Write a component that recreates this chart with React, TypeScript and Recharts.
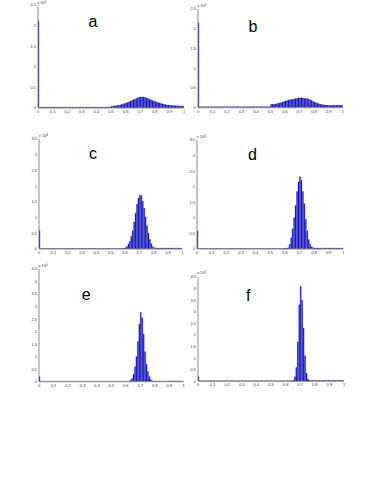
import React from 'react';
import { BarChart, Bar, XAxis, YAxis } from 'recharts';

// histogram bins: 100 equal bins on [0, 1]
const binCenters: number[] = Array.from({ length: 100 }, (_, i) => (i + 0.5) / 100);

const xTicks = [0, 0.1, 0.2, 0.3, 0.4, 0.5, 0.6, 0.7, 0.8, 0.9, 1];
const yTicks25 = [0, 0.5, 1, 1.5, 2, 2.5];
const yTicks35 = [0, 0.5, 1, 1.5, 2, 2.5, 3, 3.5];
const yTicks45 = [0, 0.5, 1, 1.5, 2, 2.5, 3, 3.5, 4, 4.5];

const panelLetters = ['a', 'b', 'c', 'd', 'e', 'f'];
const exponentText = 'x 10';
const exponentPower = '4';

// counts in units of 10^4
const countsA = [
  2.11, 0.02, 0.02, 0.02, 0.02, 0.02, 0.02, 0.02, 0.02, 0.02,
  0.02, 0.02, 0.02, 0.02, 0.02, 0.02, 0.02, 0.02, 0.02, 0.02,
  0.02, 0.02, 0.02, 0.02, 0.02, 0.02, 0.02, 0.02, 0.02, 0.02,
  0.02, 0.02, 0.02, 0.02, 0.02, 0.02, 0.02, 0.02, 0.02, 0.02,
  0.02, 0.02, 0.02, 0.02, 0.02, 0.02, 0.02, 0.02, 0.02, 0.02,
  0.04, 0.045, 0.05, 0.055, 0.06, 0.065, 0.075, 0.085, 0.1, 0.11,
  0.12, 0.135, 0.15, 0.165, 0.18, 0.2, 0.215, 0.23, 0.25, 0.26,
  0.27, 0.27, 0.265, 0.26, 0.245, 0.23, 0.215, 0.2, 0.185, 0.17,
  0.16, 0.145, 0.13, 0.12, 0.11, 0.1, 0.09, 0.085, 0.075, 0.07,
  0.065, 0.06, 0.06, 0.055, 0.055, 0.055, 0.05, 0.05, 0.05, 0.05,
];

const countsB = [
  2.15, 0.025, 0.025, 0.025, 0.025, 0.025, 0.025, 0.025, 0.025, 0.025,
  0.025, 0.025, 0.025, 0.025, 0.025, 0.025, 0.025, 0.025, 0.025, 0.025,
  0.025, 0.025, 0.025, 0.025, 0.025, 0.025, 0.025, 0.025, 0.025, 0.025,
  0.025, 0.025, 0.025, 0.025, 0.025, 0.025, 0.025, 0.025, 0.025, 0.025,
  0.025, 0.025, 0.025, 0.025, 0.025, 0.025, 0.025, 0.025, 0.025, 0.025,
  0.08, 0.085, 0.09, 0.095, 0.1, 0.11, 0.12, 0.13, 0.14, 0.155,
  0.17, 0.18, 0.19, 0.2, 0.205, 0.21, 0.22, 0.23, 0.24, 0.245,
  0.25, 0.25, 0.245, 0.24, 0.235, 0.23, 0.215, 0.2, 0.18, 0.16,
  0.14, 0.13, 0.115, 0.1, 0.09, 0.08, 0.075, 0.07, 0.065, 0.06,
  0.06, 0.06, 0.06, 0.06, 0.06, 0.06, 0.06, 0.06, 0.06, 0.06,
];

const countsC = [
  0.58, 0.015, 0.015, 0.015, 0.015, 0.015, 0.015, 0.015, 0.015, 0.015,
  0.015, 0.015, 0.015, 0.015, 0.015, 0.015, 0.015, 0.015, 0.015, 0.015,
  0.015, 0.015, 0.015, 0.015, 0.015, 0.015, 0.015, 0.015, 0.015, 0.015,
  0.015, 0.015, 0.015, 0.015, 0.015, 0.015, 0.015, 0.015, 0.015, 0.015,
  0.015, 0.015, 0.015, 0.015, 0.015, 0.015, 0.015, 0.015, 0.015, 0.015,
  0.015, 0.015, 0.015, 0.015, 0.015, 0.015, 0.015, 0.015, 0.02, 0.03,
  0.04, 0.08, 0.16, 0.25, 0.4, 0.58, 0.86, 1.14, 1.42, 1.62,
  1.72, 1.7, 1.52, 1.3, 1.02, 0.75, 0.5, 0.3, 0.17, 0.07,
  0.04, 0.03, 0.03, 0.03, 0.03, 0.03, 0.03, 0.03, 0.03, 0.03,
  0.03, 0.03, 0.03, 0.03, 0.03, 0.03, 0.03, 0.03, 0.03, 0.03,
];

const countsD = [
  0.58, 0.015, 0.015, 0.015, 0.015, 0.015, 0.015, 0.015, 0.015, 0.015,
  0.015, 0.015, 0.015, 0.015, 0.015, 0.015, 0.015, 0.015, 0.015, 0.015,
  0.015, 0.015, 0.015, 0.015, 0.015, 0.015, 0.015, 0.015, 0.015, 0.015,
  0.015, 0.015, 0.015, 0.015, 0.015, 0.015, 0.015, 0.015, 0.015, 0.015,
  0.015, 0.015, 0.015, 0.015, 0.015, 0.015, 0.015, 0.015, 0.015, 0.015,
  0.015, 0.015, 0.015, 0.015, 0.015, 0.015, 0.015, 0.015, 0.015, 0.02,
  0.02, 0.03, 0.04, 0.15, 0.36, 0.65, 1.0, 1.4, 1.85, 2.15,
  2.32, 2.2, 1.85, 1.45, 0.95, 0.58, 0.3, 0.15, 0.07, 0.04,
  0.03, 0.03, 0.03, 0.03, 0.03, 0.03, 0.03, 0.03, 0.03, 0.03,
  0.03, 0.03, 0.03, 0.03, 0.03, 0.03, 0.03, 0.03, 0.03, 0.03,
];

const countsE = [
  0.2, 0.02, 0.02, 0.02, 0.02, 0.02, 0.02, 0.02, 0.02, 0.02,
  0.02, 0.02, 0.02, 0.02, 0.02, 0.02, 0.02, 0.02, 0.02, 0.02,
  0.02, 0.02, 0.02, 0.02, 0.02, 0.02, 0.02, 0.02, 0.02, 0.02,
  0.02, 0.02, 0.02, 0.02, 0.02, 0.02, 0.02, 0.02, 0.02, 0.02,
  0.02, 0.02, 0.02, 0.02, 0.02, 0.02, 0.02, 0.02, 0.02, 0.02,
  0.02, 0.02, 0.02, 0.02, 0.02, 0.02, 0.02, 0.02, 0.02, 0.02,
  0.02, 0.02, 0.03, 0.06, 0.13, 0.3, 0.6, 1.0, 1.6, 2.3,
  2.77, 2.55, 1.9, 1.2, 0.7, 0.4, 0.2, 0.08, 0.04, 0.03,
  0.03, 0.03, 0.03, 0.03, 0.03, 0.03, 0.03, 0.03, 0.03, 0.03,
  0.03, 0.03, 0.03, 0.03, 0.03, 0.03, 0.03, 0.03, 0.03, 0.03,
];

const countsF = [
  0.2, 0.02, 0.02, 0.02, 0.02, 0.02, 0.02, 0.02, 0.02, 0.02,
  0.02, 0.02, 0.02, 0.02, 0.02, 0.02, 0.02, 0.02, 0.02, 0.02,
  0.02, 0.02, 0.02, 0.02, 0.02, 0.02, 0.02, 0.02, 0.02, 0.02,
  0.02, 0.02, 0.02, 0.02, 0.02, 0.02, 0.02, 0.02, 0.02, 0.02,
  0.02, 0.02, 0.02, 0.02, 0.02, 0.02, 0.02, 0.02, 0.02, 0.02,
  0.02, 0.02, 0.02, 0.02, 0.02, 0.02, 0.02, 0.02, 0.02, 0.02,
  0.02, 0.02, 0.02, 0.02, 0.03, 0.05, 0.2, 0.6, 1.7, 3.3,
  4.1, 3.5, 2.3, 1.1, 0.35, 0.1, 0.04, 0.03, 0.03, 0.03,
  0.03, 0.03, 0.03, 0.03, 0.03, 0.03, 0.03, 0.03, 0.03, 0.03,
  0.03, 0.03, 0.03, 0.03, 0.03, 0.03, 0.03, 0.03, 0.03, 0.03,
];

type Box = { x0: number; x1: number; yT: number; y0: number };

const panels: {
  counts: number[];
  yTicks: number[];
  box: Box;
  letter: string;
  letterX: number;
  letterY: number;
}[] = [
  { counts: countsA, yTicks: yTicks25, box: { x0: 37.7, x1: 183.7, yT: 5, y0: 108 }, letter: panelLetters[0], letterX: 93, letterY: 27.3 },
  { counts: countsB, yTicks: yTicks25, box: { x0: 197.7, x1: 342.7, yT: 9.3, y0: 108 }, letter: panelLetters[1], letterX: 253, letterY: 32.3 },
  { counts: countsC, yTicks: yTicks35, box: { x0: 39.3, x1: 182.7, yT: 139, y0: 249 }, letter: panelLetters[2], letterX: 93, letterY: 159 },
  { counts: countsD, yTicks: yTicks35, box: { x0: 197.3, x1: 343.7, yT: 140, y0: 249 }, letter: panelLetters[3], letterX: 252.5, letterY: 160 },
  { counts: countsE, yTicks: yTicks45, box: { x0: 39, x1: 183.7, yT: 269, y0: 381.7 }, letter: panelLetters[4], letterX: 86.3, letterY: 300 },
  { counts: countsF, yTicks: yTicks45, box: { x0: 197.7, x1: 343.7, yT: 276.7, y0: 381 }, letter: panelLetters[5], letterX: 248.2, letterY: 301 },
];

const FONT = '"Liberation Sans", Arial, Helvetica, sans-serif';
const tickStyle = { fontSize: 4, fill: '#333', fontFamily: FONT };

function Panel({ counts, yTicks, box }: { counts: number[]; yTicks: number[]; box: Box }) {
  const data = binCenters.map((x, i) => ({ x, count: counts[i] }));
  const ML = 2, YW = 20, MT = 6, MR = 4, XH = 10, MB = 2;
  const w = box.x1 - box.x0 + ML + YW + MR;
  const h = box.y0 - box.yT + MT + XH + MB;
  const yMax = yTicks[yTicks.length - 1];
  return (
    <div style={{ position: 'absolute', left: box.x0 - ML - YW, top: box.yT - MT }}>
      <BarChart
        width={w}
        height={h}
        data={data}
        margin={{ top: MT, right: MR, bottom: MB, left: ML }}
        barCategoryGap={0}
        barGap={0}
      >
        <XAxis
          dataKey="x"
          type="number"
          domain={[0, 1]}
          ticks={xTicks}
          interval={0}
          height={XH}
          tickLine={false}
          tickSize={1}
          tickMargin={1}
          axisLine={{ stroke: '#8a8a8a', strokeWidth: 1 }}
          tick={tickStyle}
          allowDataOverflow
        />
        <YAxis
          type="number"
          domain={[0, yMax]}
          ticks={yTicks}
          interval={0}
          width={YW}
          tickLine={false}
          tickSize={1}
          tickMargin={1}
          axisLine={{ stroke: '#8a8a8a', strokeWidth: 1 }}
          tick={tickStyle}
          allowDataOverflow
        />
        <Bar dataKey="count" fill="#1414f0" stroke="#00006e" strokeWidth={0.3} isAnimationActive={false} />
      </BarChart>
    </div>
  );
}

export default function App() {
  return (
    <div style={{ position: 'absolute', left: 0, top: 0, width: 382, height: 494, background: '#fff', overflow: 'hidden' }}>
      {panels.map((p, i) => (
        <Panel key={i} counts={p.counts} yTicks={p.yTicks} box={p.box} />
      ))}
      <svg width={382} height={494} style={{ position: 'absolute', left: 0, top: 0, pointerEvents: 'none' }}>
        {panels.map((p, i) => (
          <g key={i}>
            <text x={p.letterX} y={p.letterY} textAnchor="middle" fontSize={16} fontFamily={FONT} fill="#000">
              {p.letter}
            </text>
            <text x={p.box.x0 - 0.5} y={Math.max(p.box.yT - 2.3, 4.2)} fontSize={4} fontFamily={FONT} fill="#333">
              {exponentText}
              <tspan fontSize={3} dy={-1.2}>{exponentPower}</tspan>
            </text>
          </g>
        ))}
      </svg>
    </div>
  );
}
